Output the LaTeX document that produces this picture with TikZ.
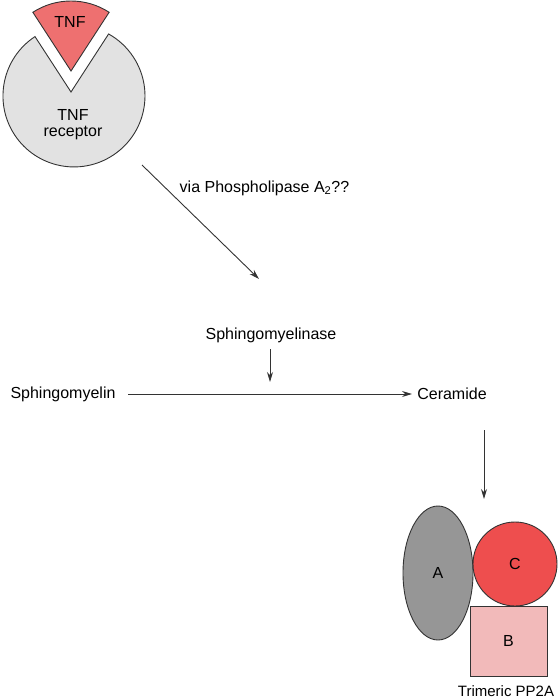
\documentclass[tikz,border=0pt]{standalone}
\usepackage{fontspec}
\setmainfont{Liberation Sans}
\usetikzlibrary{positioning, arrows.meta, shapes.geometric}

\definecolor{tnfred}{RGB}{238,112,112}
\definecolor{recgray}{RGB}{226,226,226}
\definecolor{agray}{RGB}{150,150,150}
\definecolor{cred}{RGB}{238,78,78}
\definecolor{bpink}{RGB}{242,186,186}

\begin{document}
\begin{tikzpicture}[x=1pt, y=-1pt, thick,
  every node/.style={font=\fontsize{16}{18}\selectfont},
  sub node/.style={draw=black!80, line width=0.9pt, inner sep=0pt},
  arr/.style={-{Stealth[length=10pt,width=6pt]}, line width=0.9pt, black!80}]

\useasboundingbox (0,0) rectangle (559,698);

% TNF and receptor
\filldraw[fill=recgray, draw=black!80, line width=0.9pt]
  (71,92) -- (35,36.6) arc[start angle=-123.3, end angle=-420.8, radius=71] -- cycle;
\filldraw[fill=tnfred, draw=black!80, line width=0.9pt]
  (71,71) -- ++(-123:70) arc[start angle=-123, end angle=-57, radius=70] -- cycle;
\node (tnf) at (70,22) {TNF};
\node[align=center, inner sep=1pt] (rec) at (73,125) {TNF\\[-2pt]receptor};

% pathway
\coordinate (recout) at (142,165);
\coordinate (smaseup) at (259,279);
\draw[arr] (recout) -- (smaseup);
\node[anchor=west] (pla) at (176,188) {via Phospholipase A\textsubscript{2}??};

\node (smase) at (271,335) {Sphingomyelinase};
\node (sm) at (63,394) {Sphingomyelin};
\node (cer) at (452,394) {Ceramide};
\draw[arr] (128,394) coordinate (smr) -- (412,394) coordinate (cerl);
\coordinate (hit) at (270,382);
\draw[arr] (smase.south) ++(-1,3) -- (hit);
\coordinate (pp2a) at (484,499);
\draw[arr] (484,430) -- (pp2a);

% trimeric PP2A
\node[sub node, ellipse, fill=agray, minimum width=70pt, minimum height=134pt] (A) at (438,573) {};
\node[sub node, rectangle, fill=bpink, minimum width=77pt, minimum height=70pt] (B) at (508.5,641) {};
\node[sub node, circle, fill=cred, minimum size=84pt] (C) at (515,564) {};
\node at (A) {A};
\node at (B) {B};
\node at (C) {C};
\node[anchor=base, font=\fontsize{15}{17}\selectfont, inner sep=0pt] (trim) at (506,696) {Trimeric PP2A};

\end{tikzpicture}
\end{document}
